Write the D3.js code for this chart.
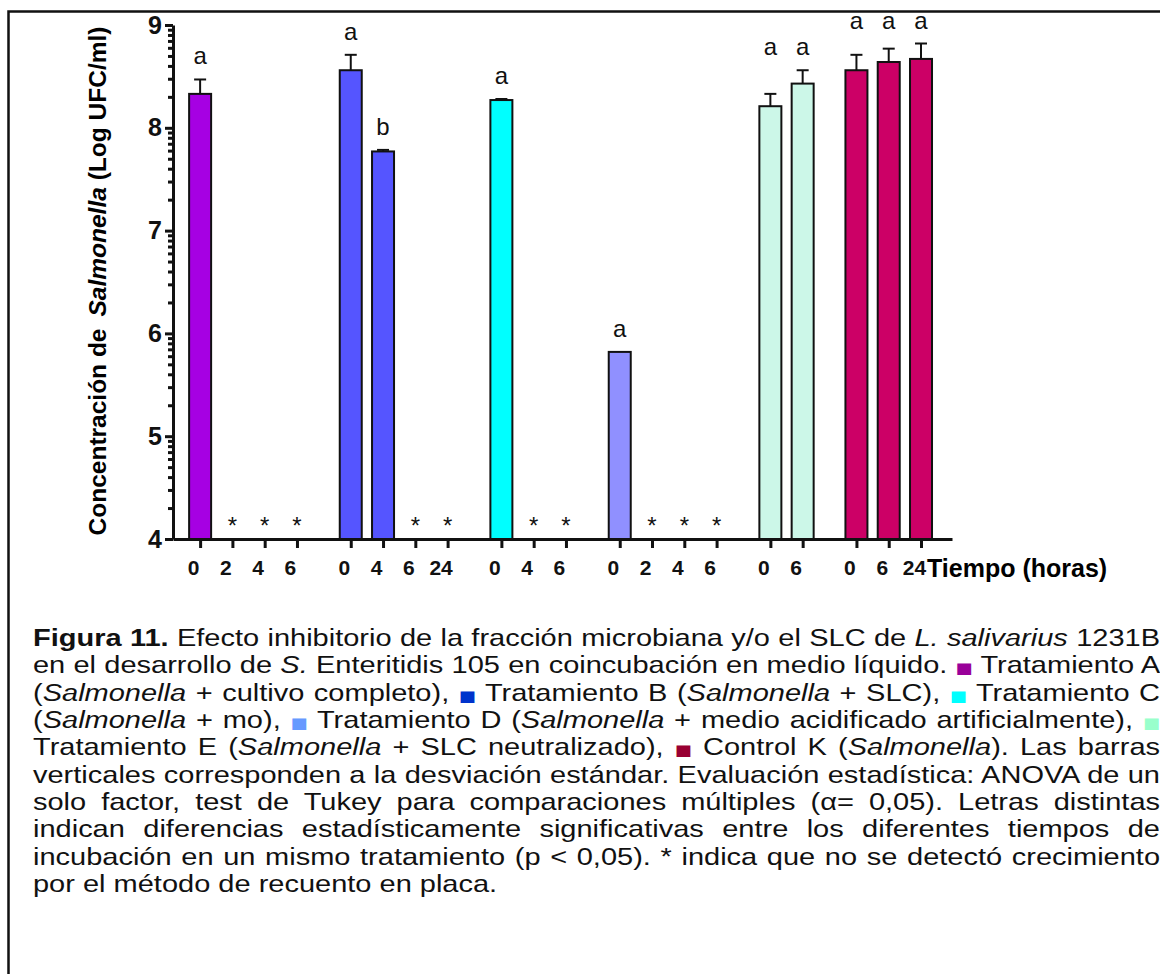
<!DOCTYPE html>
<html lang="es">
<head>
<meta charset="utf-8">
<title>Figura 11</title>
<style>
  body { margin: 0; background: #fff; }
  svg { display: block; font-family: "Liberation Sans", Arial, sans-serif; }
  .bar { stroke: #111; stroke-width: 2px; }
  .err { stroke: #111; stroke-width: 2px; fill: none; }
  .axis path, .axis line { stroke: #111; stroke-width: 3px; }
  .axis text { font-weight: bold; fill: #111; font-family: "Liberation Sans", Arial, sans-serif; }
  .note { font-size: 24px; fill: #111; }
  .caption { font-size: 24px; fill: #111; }
</style>
</head>
<body>
<div id="graphic"></div>
<script src="https://cdn.jsdelivr.net/npm/d3@7"></script>
<script>
// treatments, times (h) and Log UFC/ml values
var groups = ['A', 'B', 'C', 'D', 'E', 'K'];
var colors = ['#a600e3', '#5555ff', '#00ffff', '#9090ff', '#ccf7e8', '#cc0066'];
var legendColors = ['#990099', '#0033cc', '#00ffff', '#6699ff', '#99ffcc', '#990033'];
var times = [['0', '2', '4', '6'], ['0', '4', '6', '24'], ['0', '4', '6'], ['0', '2', '4', '6'], ['0', '6'], ['0', '6', '24']];
var means = [[8.33, null, null, null], [8.56, 7.77, null, null], [8.27, null, null], [5.82, null, null, null], [8.21, 8.43], [8.56, 8.64, 8.67]];
var sds = [[0.14, 0, 0, 0], [0.15, 0.015, 0, 0], [0.01, 0, 0], [0, 0, 0, 0], [0.12, 0.13], [0.15, 0.13, 0.15]];
var marks = [['a', '*', '*', '*'], ['a', 'b', '*', '*'], ['a', '*', '*'], ['a', '*', '*', '*'], ['a', 'a'], ['a', 'a', 'a']];
var yTicks = [4, 5, 6, 7, 8, 9];

var width = 1160, height = 974,
    gap = 0.666;   // extra space between treatment groups, in bar slots

var cells = [], n = 0;
groups.forEach(function(g, gi) {
    times[gi].forEach(function(t, ti) {
        cells.push({ group: g, gi: gi, time: t, mean: means[gi][ti], sd: sds[gi][ti],
                     mark: marks[gi][ti], pos: n + gi * gap });
        n++;
    });
});
var lastPos = d3.max(cells, function(d) { return d.pos; });

var svg = d3.select('#graphic')
            .append('svg')
            .attr('width', width)
            .attr('height', height);

svg.append('rect')
   .attr('x', 8.5).attr('y', 11.5)
   .attr('width', 1300).attr('height', 1100)
   .attr('fill', 'none').attr('stroke', '#111').attr('stroke-width', 2.5);

var x = d3.scaleLinear().domain([-0.84, lastPos + 0.96]).range([173, 952]);
var y = d3.scaleLinear().domain([4, 9]).range([539, 25]);
var barW = 22;

// bars
svg.append('g')
   .selectAll('rect')
   .data(cells.filter(function(d) { return d.mean !== null; }))
   .enter()
       .append('rect')
       .classed('bar', true)
       .attr('x', function(d) { return x(d.pos) - barW / 2; })
       .attr('y', function(d) { return y(d.mean); })
       .attr('width', barW)
       .attr('height', function(d) { return y(4) - y(d.mean); })
       .attr('fill', function(d) { return colors[d.gi]; });

// error bars (upper only)
var eb = svg.append('g').selectAll('g')
   .data(cells.filter(function(d) { return d.mean !== null && d.sd > 0; }))
   .enter().append('g');
eb.append('line').classed('err', true)
  .attr('x1', function(d) { return x(d.pos); })
  .attr('x2', function(d) { return x(d.pos); })
  .attr('y1', function(d) { return y(d.mean); })
  .attr('y2', function(d) { return y(d.mean + d.sd); });
eb.append('line').classed('err', true)
  .attr('x1', function(d) { return x(d.pos) - 6; })
  .attr('x2', function(d) { return x(d.pos) + 6; })
  .attr('y1', function(d) { return y(d.mean + d.sd); })
  .attr('y2', function(d) { return y(d.mean + d.sd); });

// letters sit above the tallest bar sharing that letter in the group; stars on the baseline
function letterTop(d) {
    return d3.max(cells, function(c) {
        return c.gi === d.gi && c.mark === d.mark && c.mean !== null ? c.mean + c.sd : null;
    });
}
svg.append('g')
   .selectAll('text')
   .data(cells)
   .enter()
       .append('text')
       .classed('note', true)
       .attr('text-anchor', 'middle')
       .attr('x', function(d) { return x(d.pos); })
       .attr('y', function(d) {
           return d.mean === null ? 534 : y(letterTop(d)) - 15;
       })
       .text(function(d) { return d.mark; });

// y axis: major + log-style minor ticks
var minor = [];
yTicks.slice(0, -1).forEach(function(v) {
    for (var k = 2; k <= 9; k++) minor.push(v + Math.log10(k));
});
svg.append('g')
   .classed('axis', true)
   .attr('transform', 'translate(173,0)')
   .call(d3.axisLeft(y).tickValues(minor).tickSize(5).tickFormat(''))
   .select('.domain').remove();
var ya = svg.append('g')
   .classed('axis', true)
   .attr('transform', 'translate(173,0)')
   .call(d3.axisLeft(y).tickValues(yTicks).tickSize(8).tickSizeOuter(0).tickPadding(3).tickFormat(d3.format('d')));
ya.selectAll('text').style('font-size', '25px');

// x axis
var xa = svg.append('g')
   .classed('axis', true)
   .attr('transform', 'translate(0,539)')
   .call(d3.axisBottom(x)
        .tickValues(cells.map(function(d) { return d.pos; }))
        .tickSize(9).tickSizeOuter(0).tickPadding(12)
        .tickFormat(function(p, i) { return cells[i].time; }));
xa.selectAll('text').style('font-size', '21px').attr('dx', -7);

svg.append('text')
   .attr('x', 927).attr('y', 577)
   .style('font-size', '25px').style('font-weight', 'bold')
   .text('Tiempo (horas)');

var yl = svg.append('text')
   .attr('transform', 'translate(106,281) rotate(-90)')
   .attr('text-anchor', 'middle')
   .style('font-size', '24.5px').style('font-weight', 'bold');
yl.append('tspan').text('Concentración de');
yl.append('tspan').attr('dx', 12).style('font-style', 'italic').text('Salmonella');
yl.append('tspan').text(' (Log UFC/ml)');

// caption (the source text is set horizontally stretched)
var captionLines = [
    [['b', 'Figura 11.'], ['', ' Efecto inhibitorio de la fracción microbiana y/o el SLC de '], ['i', 'L. salivarius'], ['', ' 1231B']],
    [['', 'en el desarrollo de '], ['i', 'S.'], ['', ' Enteritidis 105 en coincubación en medio líquido. '], ['sq0', '■'], ['', ' Tratamiento A']],
    [['', '('], ['i', 'Salmonella'], ['', ' + cultivo completo), '], ['sq1', '■'], ['', ' Tratamiento B ('], ['i', 'Salmonella'], ['', ' + SLC), '], ['sq2', '■'], ['', ' Tratamiento C']],
    [['', '('], ['i', 'Salmonella'], ['', ' + mo), '], ['sq3', '■'], ['', ' Tratamiento D ('], ['i', 'Salmonella'], ['', ' + medio acidificado artificialmente), '], ['sq4', '■']],
    [['', 'Tratamiento E ('], ['i', 'Salmonella'], ['', ' + SLC neutralizado), '], ['sq5', '■'], ['', ' Control K ('], ['i', 'Salmonella'], ['', '). Las barras']],
    [['', 'verticales corresponden a la desviación estándar. Evaluación estadística: ANOVA de un']],
    [['', 'solo factor, test de Tukey para comparaciones múltiples (α= 0,05). Letras distintas']],
    [['', 'indican diferencias estadísticamente significativas entre los diferentes tiempos de']],
    [['', 'incubación en un mismo tratamiento (p < 0,05). * indica que no se detectó crecimiento']],
    [['', 'por el método de recuento en placa.']]
];
var capX = 33, capRight = 1160, capY = 646, lineH = 27.35, stretch = 29 / 24;

var cap = svg.append('g')
             .attr('transform', 'translate(' + capX + ',0) scale(' + stretch + ',1)');

captionLines.forEach(function(segs, li) {
    var t = cap.append('text')
               .classed('caption', true)
               .attr('x', 0)
               .attr('y', capY + li * lineH)
               .attr('xml:space', 'preserve');
    segs.forEach(function(s) {
        var sp = t.append('tspan').text(s[1]);
        if (s[0] === 'b') sp.style('font-weight', 'bold');
        if (s[0] === 'i') sp.style('font-style', 'italic');
        if (s[0].indexOf('sq') === 0) {
            sp.style('fill', legendColors[+s[0].slice(2)])
              .style('font-family', '"DejaVu Sans"')
              .style('font-size', '15px');
        }
    });
    if (li < captionLines.length - 1) {
        var natural = t.node().getComputedTextLength();
        var spaces = segs.map(function(s) { return s[1]; }).join('').split(' ').length - 1;
        t.attr('word-spacing', Math.max(0, ((capRight - capX) / stretch - natural) / spaces));
    }
});
</script>
</body>
</html>
